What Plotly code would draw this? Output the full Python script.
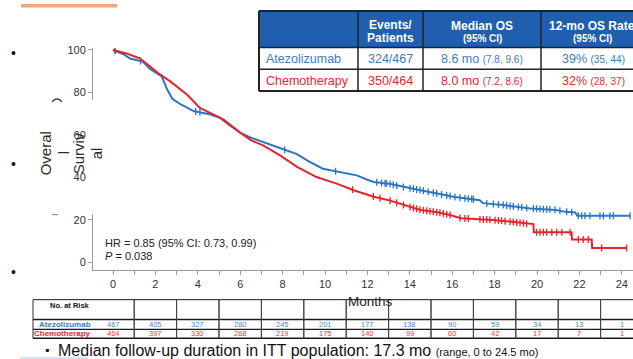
import numpy as np
import plotly.graph_objects as go

W, H = 633, 359
FONT = "Liberation Sans, Arial, sans-serif"

# ---------------- data ----------------
atezo_months = [0, 0.5, 0.8, 1.4, 1.75, 2.3, 2.55, 2.8, 3.2, 3.8, 4.6, 5.05, 5.5, 6.0, 6.5, 7.1, 8.0,
                8.65, 9.3, 9.9, 10.7, 11.5, 12.0, 12.3, 13.1, 13.7, 14.5, 15.3, 16.05, 17.3, 17.45,
                18.4, 19.7, 20.9, 21.25, 21.8, 21.9, 24.4]
atezo_surv = [100, 98, 96, 94.5, 91, 87.5, 81.5, 77, 74.3, 71.2, 69.6, 68, 64.5, 61, 58.7, 56.4, 53.3,
              51, 47.1, 44, 42.4, 40.9, 38.8, 37.8, 36.8, 35.4, 33.9, 32.3, 30.8, 29.2, 27.8,
              26.9, 25.3, 24.6, 23.8, 23.4, 21.9, 21.9]

chemo_months = [0, 0.6, 1.27, 1.75, 2.14, 2.7, 3.1, 3.5, 4.1, 4.6, 5.2, 5.7, 6.0, 6.5, 7.1, 7.9, 8.7,
                9.6, 10.55, 11.35, 12.0, 12.3, 13.0, 13.7, 14.5, 15.3, 15.9, 16.4, 17.9, 18.7, 19.7,
                19.83, 19.85, 21.63, 21.65, 22.58, 22.6, 24.2]
chemo_surv = [100, 98.5, 96, 92, 89, 85.2, 82, 78.9, 72.7, 70.4, 67.3, 63.4, 61, 57.5, 54.9, 50.2, 44.8,
              40.1, 37, 33.9, 31.8, 30.8, 29.2, 26.9, 24.6, 23.5, 22.2, 20.7, 19.9, 19.1, 17.9,
              17.9, 14.1, 14.1, 10.6, 10.6, 6.7, 6.7]

atezo_censor = [0.1, 1.3, 3.9, 4.1, 8.1, 10.5, 12.44, 12.67, 12.83, 12.9, 13.07, 13.22, 13.38, 13.7,
                14.01, 14.17, 14.32, 14.48, 14.64, 14.87, 15.11, 15.27, 15.5, 15.74, 15.9, 16.13,
                16.37, 16.6, 16.76, 16.92, 17.0, 17.63, 17.94, 18.18, 18.41, 18.57, 18.73, 18.88,
                19.12, 19.28, 19.51, 19.83, 19.98, 20.14, 20.3, 20.46, 20.61, 20.85, 21.08, 21.4,
                21.64, 21.95, 22.11, 22.26, 22.5, 22.97, 23.13, 23.44, 23.6, 24.39]
chemo_censor = [0.1, 11.3, 12.28, 12.59, 13.07, 13.38, 13.7, 14.01, 14.17, 14.32, 14.48, 14.64, 14.8,
                14.95, 15.11, 15.27, 15.42, 15.58, 15.74, 15.9, 16.37, 16.6, 16.76, 17.31, 17.47,
                17.63, 17.78, 18.02, 18.18, 18.33, 18.49, 18.73, 18.88, 19.04, 19.2, 19.36, 19.51,
                19.98, 20.14, 20.3, 20.46, 20.7, 20.93, 21.17, 21.56, 21.95, 22.18, 22.42, 23.05, 24.23]

risk_times = [0, 2, 4, 6, 8, 10, 12, 14, 16, 18, 20, 22, 24]
risk_atezo = [467, 405, 327, 280, 245, 201, 177, 138, 90, 59, 34, 13, 1]
risk_chemo = [464, 397, 330, 268, 219, 175, 140, 99, 60, 42, 17, 7, 1]

arms = ["Atezolizumab", "Chemotherapy"]
events = ["324/467", "350/464"]
median_os = ["8.6 mo", "8.0 mo"]
median_ci = ["(7.8, 9.6)", "(7.2, 8.6)"]
rate_12 = ["39%", "32%"]
rate_ci = ["(35, 44)", "(28, 37)"]
header_top = ["", "Events/", "Median OS", "12-mo OS Rate"]
header_bottom = ["", "Patients", "(95% CI)", "(95% CI)"]

hr_text = "HR = 0.85 (95% CI: 0.73, 0.99)"
p_text = "<i>P</i> = 0.038"
footnote = "Median follow-up duration in ITT population: 17.3 mo"
footnote_small = "(range, 0 to 24.5 mo)"

# ---------------- styles ----------------
BLUE = "#2C76C2"
RED = "#E5232B"
TBL_BLUE = "#3D7BC1"
TBL_RED = "#E3282E"
HDR_BLUE = "#1F5FAE"
AX_GRAY = "#9a9a9a"


def X(px):
    return px / W


def Y(py):
    return 1 - py / H


def note(x, y, text, size, color, xref="paper", xanchor="center", angle=0):
    return dict(x=x, y=y, xref=xref, yref="paper", text=text, showarrow=False,
                xanchor=xanchor, yanchor="middle", textangle=angle,
                font=dict(size=size, color=color, family=FONT))


fig = go.Figure()

for m, s, c in [(atezo_months, atezo_surv, BLUE), (chemo_months, chemo_surv, RED)]:
    fig.add_trace(go.Scatter(x=m, y=s, mode="lines", line=dict(color=c, width=2),
                             showlegend=False, hoverinfo="skip"))

for cen, m, s, c in [(atezo_censor, atezo_months, atezo_surv, BLUE),
                     (chemo_censor, chemo_months, chemo_surv, RED)]:
    yv = np.interp(cen, m, s)
    fig.add_trace(go.Scatter(x=cen, y=yv, mode="markers",
                             marker=dict(symbol="line-ns-open", size=5, color=c,
                                         line=dict(color=c, width=1.3)),
                             showlegend=False, hoverinfo="skip"))

shapes = []
ann = []

# decorations of the slide
shapes.append(dict(type="rect", xref="paper", yref="paper", x0=X(21), x1=X(117), y0=Y(3.5), y1=Y(0),
                   fillcolor="#F5A383", line=dict(width=0), layer="above"))
shapes.append(dict(type="line", xref="paper", yref="paper", x0=X(20), x1=X(88), y0=Y(358), y1=Y(358),
                   line=dict(color="#D5E3F3", width=2)))
# white box hiding part of y axis
shapes.append(dict(type="rect", xref="paper", yref="paper", x0=X(87.5), x1=X(97.5), y0=Y(212), y1=Y(97),
                   fillcolor="white", line=dict(width=0), layer="above"))
shapes.append(dict(type="line", xref="paper", yref="paper", x0=X(52), x1=X(58), y0=Y(213), y1=Y(213),
                   line=dict(color="#777", width=1)))
shapes.append(dict(type="path", xref="paper", yref="paper",
                   path=f"M {X(52)},{Y(99)} Q {X(57)},{Y(93)} {X(62)},{Y(99)}",
                   line=dict(color="#2a2a2a", width=1.2)))

for yy in [50, 162, 271]:
    ann.append(note(X(13), Y(yy), "•", 14, "#111"))

# y title fragments
for txt, xx in [("Overal", 45), ("l", 63), ("Surviv", 78), ("al", 96)]:
    ann.append(note(X(xx), Y(151), txt, 15, "#2a2a2a", angle=-90))

# ---------------- top right table ----------------
cols = [259, 358, 423, 541, 645]
rows = [7, 44, 66, 88]
shapes.append(dict(type="rect", xref="paper", yref="paper", x0=X(cols[0]), x1=X(cols[-1]),
                   y0=Y(rows[1]), y1=Y(rows[0]), fillcolor=HDR_BLUE, line=dict(width=0)))
shapes.append(dict(type="rect", xref="paper", yref="paper", x0=X(cols[0]), x1=X(cols[-1]),
                   y0=Y(rows[-1]), y1=Y(rows[1]), fillcolor="white", line=dict(width=0)))
for cx in cols[1:-1]:
    shapes.append(dict(type="line", xref="paper", yref="paper", x0=X(cx), x1=X(cx),
                       y0=Y(rows[-1]), y1=Y(rows[0]), line=dict(color="#222", width=1.5)))
for ry in rows:
    shapes.append(dict(type="line", xref="paper", yref="paper", x0=X(cols[0]), x1=X(cols[-1]),
                       y0=Y(ry), y1=Y(ry), line=dict(color="#222", width=2 if ry in (7, 88) else 1.5)))
shapes.append(dict(type="line", xref="paper", yref="paper", x0=X(cols[0]), x1=X(cols[0]),
                   y0=Y(rows[-1]), y1=Y(rows[0]), line=dict(color="#222", width=2)))

for i in range(1, 4):
    cx = (cols[i] + cols[i + 1]) / 2 if i < 3 else 592
    ann.append(note(X(cx), Y(21 if i == 1 else 22), f"<b>{header_top[i]}</b>", 12, "white"))
    ann.append(note(X(cx), Y(34 if i == 1 else 35), f"<b>{header_bottom[i]}</b>",
                    12 if i == 1 else 10, "white"))

for r in range(2):
    yc = (rows[r + 1] + rows[r + 2]) / 2 + 0.5
    col = TBL_BLUE if r == 0 else TBL_RED
    ann.append(note(X(264), Y(yc), arms[r], 12.5, col, xanchor="left"))
    ann.append(note(X((cols[1] + cols[2]) / 2), Y(yc), events[r], 12.5, col))
    ann.append(note(X((cols[2] + cols[3]) / 2), Y(yc),
                    f"{median_os[r]} <span style='font-size:10px'>{median_ci[r]}</span>", 12.5, col))
    ann.append(note(X(593), Y(yc),
                    f"{rate_12[r]} <span style='font-size:10px'>{rate_ci[r]}</span>", 12.5, col))

# ---------------- HR / P ----------------
ann.append(note(X(103), Y(242), hr_text, 11, "#222", xanchor="left"))
ann.append(note(X(103), Y(255), p_text, 11, "#222", xanchor="left"))

# ---------------- at risk table ----------------
rt_top, rt_mid1, rt_mid2, rt_bot = 299, 319, 329, 338
rt_left = 33
for ry, lw in [(rt_top, 1), (rt_mid1, 1.5), (rt_mid2, 1.2), (rt_bot, 1.5)]:
    shapes.append(dict(type="line", xref="paper", yref="paper", x0=X(rt_left), x1=1,
                       y0=Y(ry), y1=Y(ry), line=dict(color="#1a1a1a", width=lw)))
shapes.append(dict(type="line", xref="paper", yref="paper", x0=X(rt_left), x1=X(rt_left),
                   y0=Y(rt_bot), y1=Y(rt_top), line=dict(color="#333", width=1)))
for t in risk_times:
    for edge in (t - 1, t + 1):
        shapes.append(dict(type="line", xref="x", yref="paper", x0=edge, x1=edge,
                           y0=Y(rt_bot), y1=Y(rt_top), line=dict(color="#444", width=1)))

ann.append(note(X(92), Y(305), "<b>No. at Risk</b>", 7.5, "#111", xanchor="right"))
ann.append(note(X(92.5), Y(324), f"<b>{arms[0]}</b>", 8, TBL_BLUE, xanchor="right"))
ann.append(note(X(92.5), Y(333.5), f"<b>{arms[1]}</b>", 8, TBL_RED, xanchor="right"))
for t, a, c in zip(risk_times, risk_atezo, risk_chemo):
    ann.append(note(t, Y(324), str(a), 7.5, "#4F86C8", xref="x"))
    ann.append(note(t, Y(333.5), str(c), 7.5, "#E8393E", xref="x"))

ann.append(note(X(370), Y(301), "Months", 13.5, "#222"))

# ---------------- footnote ----------------
ann.append(note(X(47), Y(350), "▪", 12, "#111"))
ann.append(note(X(56), Y(350), f"{footnote} <span style='font-size:11px'>{footnote_small}</span>",
                16, "#111", xanchor="left"))

# ---------------- axes ----------------
x_left_px, x0_px, px_per_month = 93, 113, 21.2
y0_px, px_per_pct = 261, 2.145
y_bot_px, y_top_px = 269, 44.8

fig.update_layout(
    width=W, height=H, margin=dict(l=0, r=0, t=0, b=0),
    paper_bgcolor="white", plot_bgcolor="white",
    font=dict(family=FONT, color="#333"),
    shapes=shapes, annotations=ann,
    xaxis=dict(domain=[X(x_left_px), 1],
               range=[(x_left_px - x0_px) / px_per_month, (W - x0_px) / px_per_month],
               tickvals=list(range(0, 25, 2)), ticks="outside", ticklen=4, tickcolor=AX_GRAY,
               minor=dict(dtick=1, tick0=0, ticks="outside", ticklen=4, tickcolor=AX_GRAY),
               showline=True, linecolor=AX_GRAY, linewidth=1, showgrid=False, zeroline=False,
               tickfont=dict(size=11, color="#333")),
    yaxis=dict(domain=[Y(y_bot_px), Y(y_top_px)],
               range=[(y0_px - y_bot_px) / px_per_pct, (y0_px - y_top_px) / px_per_pct],
               tickvals=[0, 20, 40, 60, 80, 100], ticks="outside", ticklen=4, tickcolor=AX_GRAY,
               showline=True, linecolor=AX_GRAY, linewidth=1, showgrid=False, zeroline=False,
               tickfont=dict(size=11, color="#333")),
)

fig.write_html("out.html")
